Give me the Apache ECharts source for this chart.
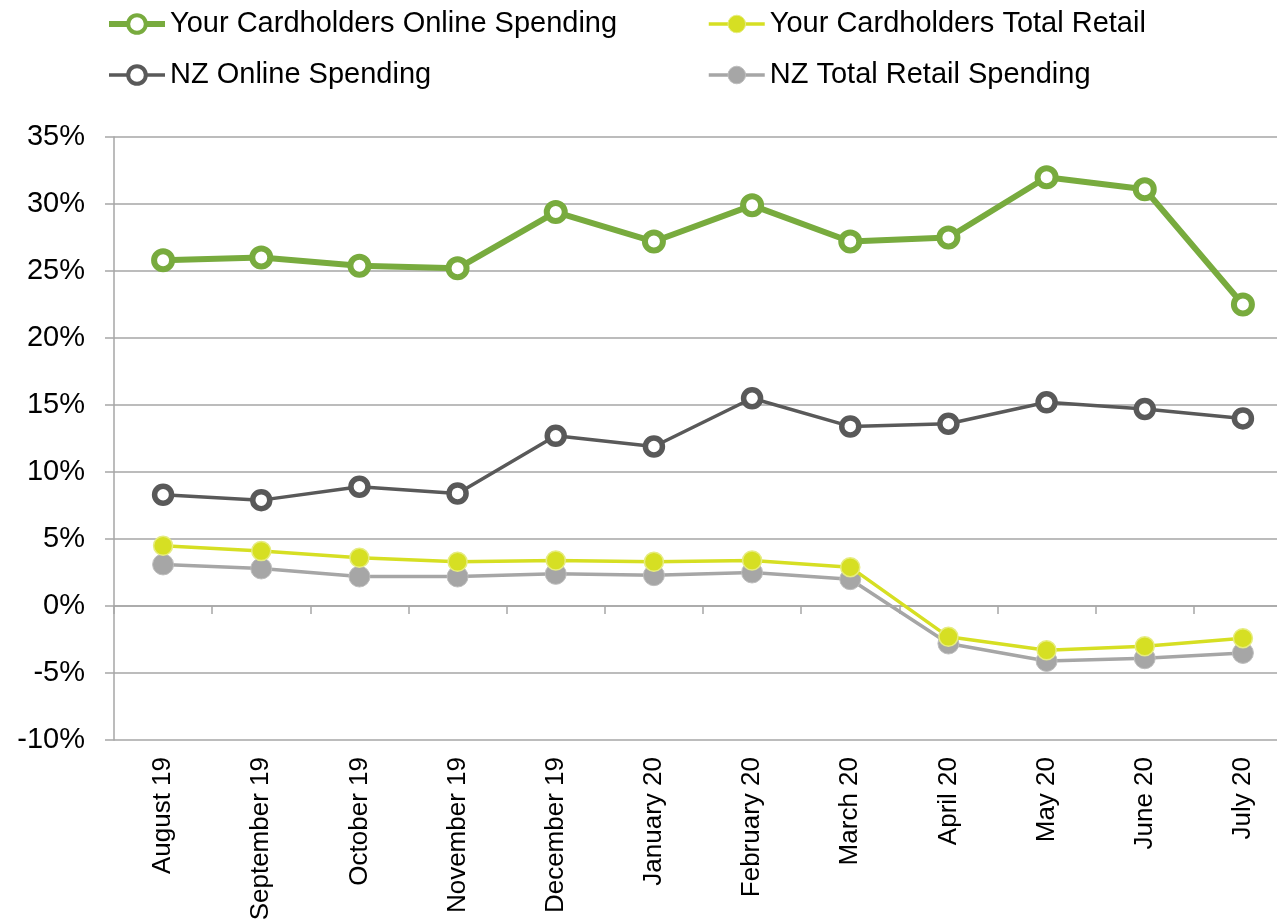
<!DOCTYPE html>
<html>
<head>
<meta charset="utf-8">
<script src="https://cdn.jsdelivr.net/npm/echarts@6/dist/echarts.min.js"></script>
<style>
html,body{margin:0;padding:0;background:#fff;}
#c{width:1277px;height:924px;}
</style>
</head>
<body>
<div id="c"></div>
<script>
var categories = ['August 19','September 19','October 19','November 19','December 19','January 20','February 20','March 20','April 20','May 20','June 20','July 20'];
var cardOnline = [25.8, 26.0, 25.4, 25.2, 29.4, 27.2, 29.9, 27.2, 27.5, 32.0, 31.1, 22.5];
var cardRetail = [4.5, 4.1, 3.6, 3.3, 3.4, 3.3, 3.4, 2.9, -2.3, -3.3, -3.0, -2.4];
var nzOnline = [8.3, 7.9, 8.9, 8.4, 12.7, 11.9, 15.5, 13.4, 13.6, 15.2, 14.7, 14.0];
var nzRetail = [3.1, 2.8, 2.2, 2.2, 2.4, 2.3, 2.5, 2.0, -2.8, -4.1, -3.9, -3.5];
var yTicks = { min: -10, max: 35, interval: 5 };

var FONT = '"Liberation Sans", Arial, Helvetica, sans-serif';
var GREEN = '#78ab3e', YELLOW = '#d6df23', DARK = '#595959', GREY = '#a6a6a6';
var chart = echarts.init(document.getElementById('c'));
var gridColor = '#a6a6a6';
var legendText = { fontFamily: FONT, fontSize: 29, color: '#000', lineHeight: 30 };
chart.setOption({
  animation: false,
  textStyle: { fontFamily: FONT },
  legend: [
    { orient: 'vertical', left: 106, top: 9, padding: 0,
      itemWidth: 56, itemHeight: 22, itemGap: 21, textStyle: legendText,
      data: [
        { name: 'Your Cardholders Online Spending', lineStyle: { width: 6, color: GREEN }, itemStyle: { color: '#fff', borderColor: GREEN, borderWidth: 4 } },
        { name: 'NZ Online Spending', lineStyle: { width: 3.5, color: DARK }, itemStyle: { color: '#fff', borderColor: DARK, borderWidth: 4 } }
      ] },
    { orient: 'vertical', left: 707, top: 9, padding: 0,
      itemWidth: 56, itemHeight: 22, itemGap: 21, textStyle: legendText,
      data: [
        { name: 'Your Cardholders Total Retail', lineStyle: { width: 3.5, color: YELLOW }, itemStyle: { color: YELLOW, borderColor: '#e6ec80', borderWidth: 1 } },
        { name: 'NZ Total Retail Spending', lineStyle: { width: 3.5, color: GREY }, itemStyle: { color: GREY, borderColor: '#bdbdbd', borderWidth: 1 } }
      ] }
  ],
  grid: { left: 114, right: -15, top: 137, bottom: 184, containLabel: false, outerBoundsMode: 'none' },
  xAxis: [
    { type: 'category', data: categories, position: 'bottom', boundaryGap: true,
      axisLine: { show: false, onZero: false }, axisTick: { show: false },
      axisLabel: { rotate: 90, margin: 17, fontSize: 26, color: '#000', fontFamily: FONT, interval: 0 },
      splitLine: { show: false } },
    { type: 'category', data: categories, position: 'bottom', boundaryGap: true,
      axisLine: { show: true, onZero: true, lineStyle: { color: gridColor, width: 1.5 } },
      axisTick: { show: true, interval: 0, length: 8, inside: false, lineStyle: { color: gridColor, width: 1.5 } },
      axisLabel: { show: false, interval: 0 }, splitLine: { show: false } }
  ],
  yAxis: {
    type: 'value', min: yTicks.min, max: yTicks.max, interval: yTicks.interval,
    axisLine: { show: true, lineStyle: { color: gridColor, width: 1.5 } },
    axisTick: { show: true, length: 9, lineStyle: { color: gridColor, width: 1.5 } },
    axisLabel: { formatter: '{value}%', fontSize: 29, color: '#000', margin: 29, fontFamily: FONT },
    splitLine: { show: true, lineStyle: { color: gridColor, width: 1.5 } }
  },
  series: [
    { name: 'Your Cardholders Online Spending', type: 'line', data: cardOnline, xAxisIndex: 0,
      symbol: 'circle', symbolSize: 18, z: 5,
      lineStyle: { color: GREEN, width: 6 },
      itemStyle: { color: '#fff', borderColor: GREEN, borderWidth: 6 } },
    { name: 'Your Cardholders Total Retail', type: 'line', data: cardRetail, xAxisIndex: 0,
      symbol: 'circle', symbolSize: 19, z: 3,
      lineStyle: { color: YELLOW, width: 3.5 },
      itemStyle: { color: YELLOW, borderColor: '#e6ec80', borderWidth: 1.5 } },
    { name: 'NZ Online Spending', type: 'line', data: nzOnline, xAxisIndex: 0,
      symbol: 'circle', symbolSize: 17, z: 4,
      lineStyle: { color: DARK, width: 3.5 },
      itemStyle: { color: '#fff', borderColor: DARK, borderWidth: 5.5 } },
    { name: 'NZ Total Retail Spending', type: 'line', data: nzRetail, xAxisIndex: 0,
      symbol: 'circle', symbolSize: 21, z: 2,
      lineStyle: { color: GREY, width: 3.5 },
      itemStyle: { color: GREY, borderColor: '#bdbdbd', borderWidth: 1 } }
  ]
});
</script>
</body>
</html>
